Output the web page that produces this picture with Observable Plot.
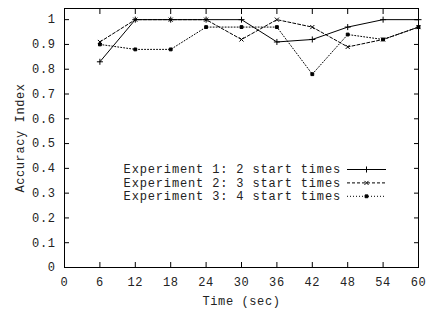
<!DOCTYPE html>
<html>
<head>
<meta charset="utf-8">
<script src="https://cdn.jsdelivr.net/npm/d3@7"></script>
<script src="https://cdn.jsdelivr.net/npm/@observablehq/plot@0.6"></script>
<style>
  html, body { margin: 0; padding: 0; background: #fff; }
  #chart { position: relative; width: 428px; height: 310px; }
  #legend { position: absolute; left: 0; top: 0; pointer-events: none; }
</style>
</head>
<body>
<div id="chart"></div>
<script>
const times = [6, 12, 18, 24, 30, 36, 42, 48, 54, 60];
const exp1 = [0.83, 1.00, 1.00, 1.00, 1.00, 0.91, 0.92, 0.97, 1.00, 1.00];
const exp2 = [0.91, 1.00, 1.00, 1.00, 0.92, 1.00, 0.97, 0.89, 0.92, 0.97];
const exp3 = [0.90, 0.88, 0.88, 0.97, 0.97, 0.97, 0.78, 0.94, 0.92, 0.97];
const seriesNames = ["Experiment 1: 2 start times", "Experiment 2: 3 start times", "Experiment 3: 4 start times"];
const xTicks = [0, 6, 12, 18, 24, 30, 36, 42, 48, 54, 60];
const yTicks = [0, 0.1, 0.2, 0.3, 0.4, 0.5, 0.6, 0.7, 0.8, 0.9, 1];

const styles = [
  {dash: null, symbol: "plus", r: 2.1, fill: "none"},
  {dash: "3,2", symbol: "times", r: 2.0, fill: "none"},
  {dash: "1,2", symbol: "square", r: 1.6, fill: "black"}
];
const seriesValues = [exp1, exp2, exp3];
const data = seriesValues.map((vals, i) => times.map((t, j) => ({t, v: vals[j], s: seriesNames[i]})));

const font = "'Courier New', Courier, 'Nimbus Mono PS', FreeMono, 'Liberation Mono', monospace";
const textColor = "#222";

const marks = [
  Plot.frame({stroke: "black", strokeWidth: 1}),
  Plot.axisX({anchor: "bottom", ticks: xTicks, tickSize: -5, tickPadding: 15, tickFormat: d => String(d),
    label: "Time (sec)", labelAnchor: "center", labelOffset: 37, labelArrow: "none", fontSize: 12, stroke: "black", fill: textColor}),
  Plot.axisX({anchor: "top", ticks: xTicks, tickSize: -5, tickFormat: () => "", label: null, stroke: "black"}),
  Plot.axisY({anchor: "left", ticks: yTicks, tickSize: -5, tickPadding: 14, tickFormat: d => String(+d.toFixed(1)),
    label: "Accuracy Index", labelAnchor: "center", labelOffset: 49, labelArrow: "none", fontSize: 12, stroke: "black", fill: textColor}),
  Plot.axisY({anchor: "right", ticks: yTicks, tickSize: -5, tickFormat: () => "", label: null, stroke: "black"})
];
data.forEach((d, i) => {
  const st = styles[i];
  marks.push(Plot.line(d, {x: "t", y: "v", stroke: "black", strokeWidth: 1, strokeDasharray: st.dash}));
  marks.push(Plot.dot(d, {x: "t", y: "v", symbol: () => st.symbol, r: st.r, stroke: "black", strokeWidth: 1, fill: st.fill}));
});

const plot = Plot.plot({
  width: 428,
  height: 310,
  marginLeft: 64,
  marginRight: 10,
  marginTop: 8,
  marginBottom: 43,
  style: {fontFamily: font, fontSize: "12px", color: "black", background: "white", letterSpacing: "0.6px"},
  x: {domain: [0, 60]},
  y: {domain: [0, 1.045]},
  marks
});
document.getElementById("chart").appendChild(plot);

// legend (overlay inside plot area)
const legendSvg = d3.select("#chart").append("svg")
  .attr("id", "legend").attr("width", 428).attr("height", 310)
  .style("font-family", font).style("font-size", "12px").style("letter-spacing", "0.85px");
const legendRight = 341, rowY0 = 169.5, rowGap = 13.4, lineX1 = 347, lineX2 = 386;
const symbolGen = {plus: d3.symbolPlus, times: d3.symbolTimes, square: d3.symbolSquare};
seriesNames.forEach((name, i) => {
  const y = rowY0 + i * rowGap;
  const st = styles[i];
  legendSvg.append("text").attr("x", legendRight).attr("y", y).attr("text-anchor", "end")
    .attr("dy", "0.32em").attr("fill", textColor).text(name);
  legendSvg.append("line").attr("x1", lineX1).attr("x2", lineX2).attr("y1", y).attr("y2", y)
    .attr("stroke", "black").attr("stroke-width", 1).attr("stroke-dasharray", st.dash);
  const size = Math.PI * st.r * st.r;
  legendSvg.append("path").attr("transform", `translate(${(lineX1 + lineX2) / 2},${y})`)
    .attr("d", d3.symbol(symbolGen[st.symbol], size)())
    .attr("stroke", "black").attr("stroke-width", 1).attr("fill", st.fill);
});
</script>
</body>
</html>
